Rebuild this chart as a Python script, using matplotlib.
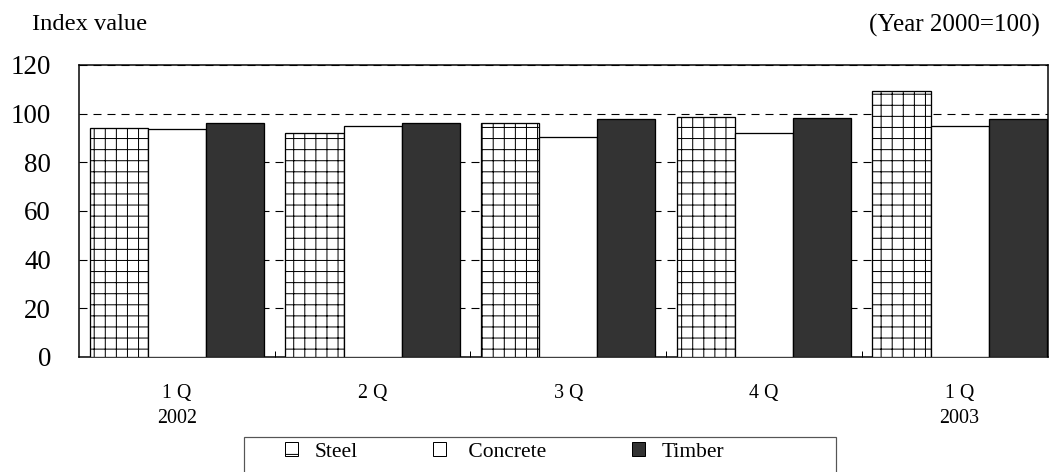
import matplotlib
matplotlib.use('Agg')
import matplotlib.pyplot as plt
from matplotlib.patches import Patch, Rectangle
import numpy as np

# data
quarters = ['1 Q\n2002', '2 Q', '3 Q', '4 Q', '1 Q\n2003']
steel = [94.2, 92.2, 96.3, 98.8, 109.3]
concrete = [93.6, 95.1, 90.5, 91.9, 94.9]
timber = [96.3, 96.3, 98.0, 98.1, 97.7]
yticks = [0, 20, 40, 60, 80, 100, 120]

DPI = 400 / 3
W, H = 1050, 472


def pt(px):
    # pixels -> points at this dpi
    return px * 72 / DPI


plt.rcParams['font.family'] = ['Liberation Serif', 'DejaVu Serif']
plt.rcParams['hatch.linewidth'] = pt(1.0)
plt.rcParams['lines.scale_dashes'] = False

fig = plt.figure(figsize=(W / DPI, H / DPI), dpi=DPI)
ax = fig.add_axes([79 / W, 1 - 357 / H, (1048 - 79) / W, (357 - 65) / H])

x = np.arange(len(quarters))
bw = 0.297
edge = dict(edgecolor='black', linewidth=pt(1.3), zorder=3)
ax.bar(x - bw, steel, bw, color='white', hatch='++', **edge)
ax.bar(x, concrete, bw, color='white', **edge)
ax.bar(x + bw, timber, bw, color='#333333', **edge)

ax.set_xlim(-0.501, 4.452)
ax.set_ylim(0, 120)
ax.set_yticks(yticks)
ax.set_yticklabels([str(v) for v in yticks], fontsize=pt(27))
ax.tick_params(axis='y', length=0, pad=pt(28))

ax.set_xticks(x)
ax.set_xticklabels(quarters, fontsize=pt(20), linespacing=1.45)
ax.set_xticks(x[:-1] + 0.5, minor=True)
ax.tick_params(axis='x', which='major', length=0, pad=pt(27))
ax.tick_params(axis='x', which='minor', direction='in', length=pt(6),
               width=pt(1.0))

ax.yaxis.grid(True, color='black', linewidth=pt(1.1),
              linestyle=(0, (pt(8), pt(6))), zorder=0)
ax.set_axisbelow(True)
for s in ax.spines.values():
    s.set_linewidth(pt(1.5))

fig.text(32 / W, 1 - 25 / H, 'Index value', fontsize=pt(24.5),
         ha='left', va='center')
fig.text(1040 / W, 1 - 25 / H, '(Year 2000=100)', fontsize=pt(25),
         ha='right', va='center')

# legend frame (bottom edge runs off the picture like the original)
fig.patches.append(Rectangle((244 / W, -0.05), (836 - 244) / W,
                             0.05 + 1 - 437 / H, transform=fig.transFigure,
                             facecolor='white', edgecolor='#555555',
                             linewidth=pt(1.2)))

handles = [Patch(facecolor='white', edgecolor='black', hatch='+',
                 linewidth=pt(1.0)),
           Patch(facecolor='white', edgecolor='black', linewidth=pt(1.0)),
           Patch(facecolor='#333333', edgecolor='black', linewidth=pt(1.0))]
fs = 21.5
fig.legend(handles, ['Steel', ' Concrete  ', 'Timber'], loc='center left',
           bbox_to_anchor=(285 / W, 1 - 452 / H), ncol=3, frameon=False,
           fontsize=pt(fs), handlelength=13 / fs, handleheight=13 / fs,
           handletextpad=17 / fs, columnspacing=75 / fs, borderpad=0,
           borderaxespad=0)

fig.savefig('out.png', dpi=DPI)
